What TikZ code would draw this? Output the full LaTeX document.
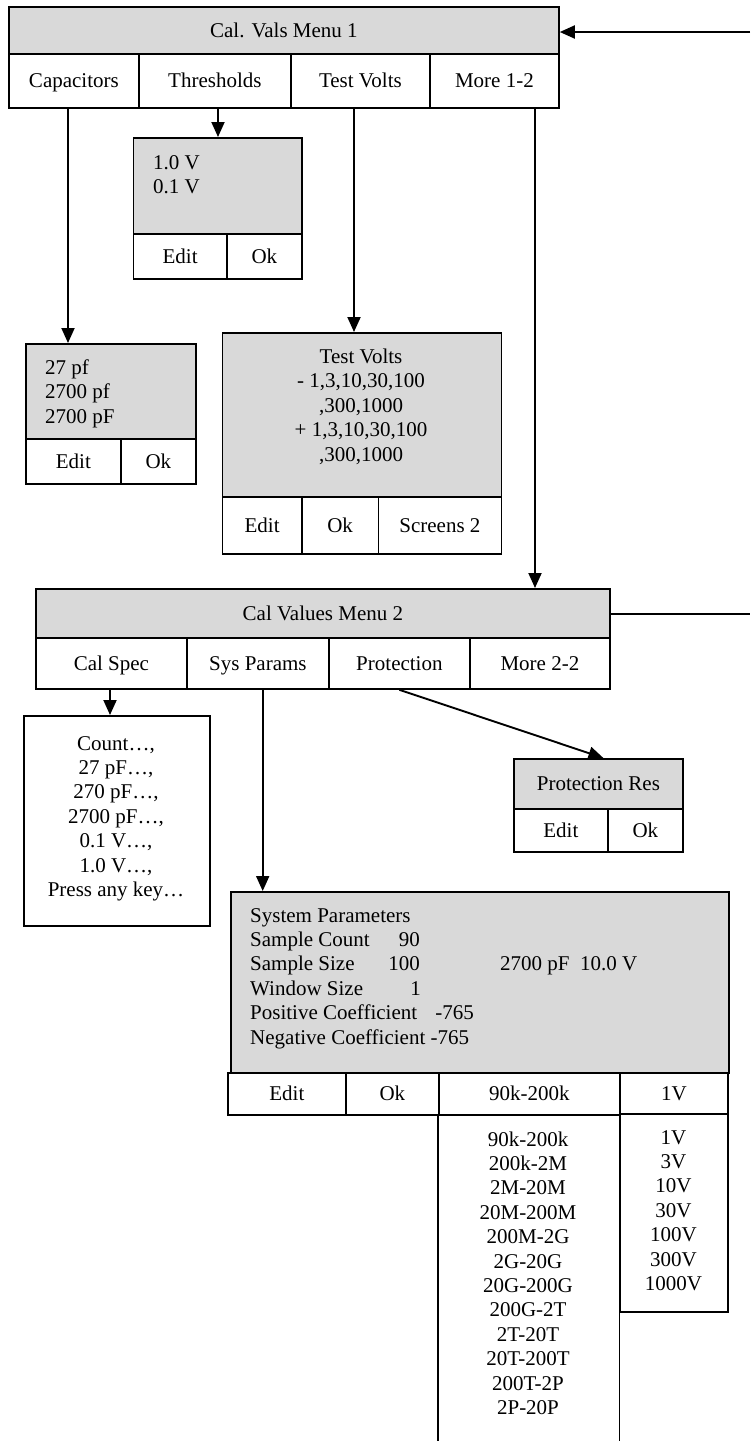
\documentclass[tikz,border=0pt]{standalone}
\usepackage{fontspec}
\setmainfont{Liberation Serif}
\usetikzlibrary{arrows.meta}
\definecolor{boxgrey}{RGB}{217,217,217}
\newcommand\dfont{\fontsize{21}{24.4}\selectfont}
\begin{document}
\begin{tikzpicture}[x=1pt,y=-1pt,
  cell/.style={draw, line width=1.8pt, rectangle, inner sep=0pt, anchor=north west,
    text height=14pt, text depth=0pt, font=\dfont},
  gcell/.style={cell, fill=boxgrey},
  txt/.style={inner sep=0pt, font=\dfont},
  arr/.style={line width=1.9pt, -{Triangle[length=15pt,width=13pt]}},
  plain/.style={line width=1.9pt}]
\useasboundingbox (0,0) rectangle (750,1441);

% ---------- Menu 1 ----------
\node[gcell, minimum width=550pt, minimum height=47pt] (m1) at (8,6) {Cal. Vals Menu 1};
\node[cell, minimum width=130pt, minimum height=54pt] (b1cap) at (8,53) {Capacitors};
\node[cell, minimum width=152pt, minimum height=54pt] (b1thr) at (138,53) {Thresholds};
\node[cell, minimum width=139pt, minimum height=54pt] (b1tv) at (290,53) {Test Volts};
\node[cell, minimum width=129pt, minimum height=54pt] (b1more) at (429,53) {More 1-2};

% ---------- Thresholds ----------
\node[gcell, minimum width=168.5pt, minimum height=96pt] (thr) at (132.5,137) {};
\node[txt, anchor=base west] (thr1) at (153,169) {1.0 V};
\node[txt, anchor=base west] (thr2) at (153,193) {0.1 V};
\node[cell, minimum width=93.5pt, minimum height=45pt] (thrE) at (132.5,233) {Edit};
\node[cell, minimum width=75pt, minimum height=45pt] (thrO) at (226,233) {Ok};

% ---------- Capacitors ----------
\node[gcell, minimum width=170pt, minimum height=95pt] (capb) at (25,343) {};
\foreach \t [count=\i] in {27 pf, 2700 pf, 2700 pF}
  \node[txt, anchor=base west] (capl\i) at (45,{374+(\i-1)*24.5}) {\t};
\node[cell, minimum width=95pt, minimum height=45pt] (capE) at (25,438) {Edit};
\node[cell, minimum width=75pt, minimum height=45pt] (capO) at (120,438) {Ok};

% ---------- Test Volts ----------
\node[gcell, minimum width=279pt, minimum height=164pt] (tvb) at (221.5,332) {};
\foreach \t [count=\i] in {Test Volts, {- 1,3,10,30,100}, {,300,1000}, {+ 1,3,10,30,100}, {,300,1000}}
  \node[txt, anchor=base] (tvl\i) at (361,{363+(\i-1)*24.5}) {\t};
\node[cell, minimum width=79.5pt, minimum height=57pt] (tvE) at (221.5,496) {Edit};
\node[cell, minimum width=76.5pt, minimum height=57pt] (tvO) at (301,496) {Ok};
\node[cell, minimum width=123pt, minimum height=57pt] (tvS) at (377.5,496) {Screens 2};

% ---------- Menu 2 ----------
\node[gcell, minimum width=574pt, minimum height=49pt] (m2) at (35,588) {Cal Values Menu 2};
\node[cell, minimum width=151pt, minimum height=51pt] (b2cal) at (35,637) {Cal Spec};
\node[cell, minimum width=142pt, minimum height=51pt] (b2sys) at (186,637) {Sys Params};
\node[cell, minimum width=141pt, minimum height=51pt] (b2prot) at (328,637) {Protection};
\node[cell, minimum width=140pt, minimum height=51pt] (b2more) at (469,637) {More 2-2};

% ---------- Cal Spec list ----------
\node[cell, minimum width=186pt, minimum height=210pt] (cs) at (23,715) {};
\foreach \t [count=\i] in {{Count…,}, {27 pF…,}, {270 pF…,}, {2700 pF…,}, {0.1 V…,}, {1.0 V…,}, Press any key…}
  \node[txt, anchor=base] (csl\i) at (116,{750+(\i-1)*24.4}) {\t};

% ---------- Protection ----------
\node[gcell, minimum width=169pt, minimum height=50pt] (prb) at (513,758) {Protection Res};
\node[cell, minimum width=94pt, minimum height=43pt] (prE) at (513,808) {Edit};
\node[cell, minimum width=75pt, minimum height=43pt] (prO) at (607,808) {Ok};

% ---------- System Parameters ----------
\node[gcell, minimum width=498pt, minimum height=181pt] (sp) at (229.7,891) {};
\foreach \t [count=\i] in {System Parameters, Sample Count, Sample Size, Window Size, Positive Coefficient, Negative Coefficient -765}
  \node[txt, anchor=base west] (spl\i) at (250,{922+(\i-1)*24.4}) {\t};
\node[txt, anchor=base east] (spv1) at (420,946.4) {90};
\node[txt, anchor=base east] (spv2) at (420,970.8) {100};
\node[txt, anchor=base east] (spv3) at (421,995.2) {1};
\node[txt, anchor=base east] (spv4) at (474,1019.6) {-765};
\node[txt, anchor=base west] (spv5) at (500,970.8) {2700 pF\ \ 10.0 V};
\node[cell, minimum width=118pt, minimum height=42pt] (spE) at (227,1072) {Edit};
\node[cell, minimum width=93pt, minimum height=42pt] (spO) at (345,1072) {Ok};
\node[cell, minimum width=181pt, minimum height=42pt] (spR) at (438,1072) {90k-200k};
\node[cell, minimum width=108pt, minimum height=41pt] (spV) at (619,1072) {1V};

% range list (open at bottom)
\node[inner sep=0pt, anchor=north west, minimum width=181pt, minimum height=330pt] (rl) at (438,1114) {};
\draw[line width=1.8pt] (rl.south west) -- (rl.north west);
\draw[line width=1.8pt] (rl.south east) -- (rl.north east);
\foreach \t [count=\i] in {90k-200k, 200k-2M, 2M-20M, 20M-200M, 200M-2G, 2G-20G, 20G-200G, 200G-2T, 2T-20T, 20T-200T, 200T-2P, 2P-20P}
  \node[txt, anchor=base] (rll\i) at (528,{1146+(\i-1)*24.4}) {\t};

% voltage list
\node[cell, minimum width=108pt, minimum height=198pt] (vl) at (619,1113) {};
\foreach \t [count=\i] in {1V, 3V, 10V, 30V, 100V, 300V, 1000V}
  \node[txt, anchor=base] (vll\i) at (673.5,{1144+(\i-1)*24.4}) {\t};

% ---------- connectors ----------
\coordinate (in1) at (750,32);
\coordinate (out2) at (750,614);
\coordinate (xcap) at (68,0);
\coordinate (xthr) at (218,0);
\coordinate (xtv) at (354,0);
\coordinate (xmore) at (535,0);
\coordinate (xcal) at (110,0);
\coordinate (xsys) at (262.7,0);

\draw[arr] (in1) -- (in1 -| m1.east);
\draw[plain] (m2.east |- out2) -- (out2);
\draw[arr] (b1cap.south -| xcap) -- (capb.north -| xcap);
\draw[arr] (b1thr.south -| xthr) -- (thr.north -| xthr);
\draw[arr] (b1tv.south -| xtv) -- (tvb.north -| xtv);
\draw[arr] (b1more.south -| xmore) -- (m2.north -| xmore);
\draw[arr] (b2cal.south -| xcal) -- (cs.north -| xcal);
\draw[arr] (b2sys.south -| xsys) -- (sp.north -| xsys);
\draw[arr] (b2prot.south) -- ([xshift=5pt]prb.north);
\end{tikzpicture}
\end{document}
